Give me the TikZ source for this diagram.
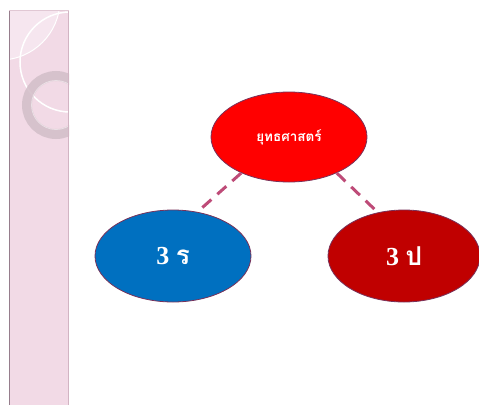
\documentclass[tikz,border=0pt]{standalone}
\usepackage{fontspec}
\setmainfont{Liberation Serif}
\newfontfamily\thaifont[Script=Thai]{Loma}
\usetikzlibrary{shapes.geometric}
\definecolor{barpink}{RGB}{242,218,230}
\definecolor{barlight}{RGB}{246,230,239}
\definecolor{ringgray}{RGB}{212,192,202}
\definecolor{edgecol}{RGB}{120,50,90}
\definecolor{dashcol}{RGB}{190,75,120}
\definecolor{topred}{RGB}{255,0,0}
\definecolor{leftblue}{RGB}{0,112,192}
\definecolor{rightred}{RGB}{192,0,0}
\tikzset{
  bubble/.style={ellipse, draw=edgecol, line width=0.8pt, text=white, inner sep=0pt},
  link/.style={draw=dashcol, line width=3pt, dash pattern=on 12pt off 8pt}
}
\begin{document}
\begin{tikzpicture}[x=1pt,y=-1pt]
\useasboundingbox (0,0) rectangle (479,405);
\fill[white] (0,0) rectangle (479,405);
% decorative bar
\begin{scope}
\clip (9,10) rectangle (69,405);
\fill[barpink] (9,10) rectangle (69,405);
\fill[barlight] (0,0) circle (60);
\draw[white, line width=1pt] (0,0) circle (60);
\draw[white, line width=1.5pt] (70,62) circle (50);
\draw[ringgray, opacity=0.9, line width=10pt] (56,105) circle (29);
\draw[white, opacity=0.5, line width=0.8pt] (56,105) circle (24.5);
\end{scope}
\draw[color={rgb,255:red,150;green,125;blue,140}, line width=1pt] (9.5,10) -- (9.5,405);
\draw[color={rgb,255:red,210;green,180;blue,195}, line width=1pt] (68.5,10) -- (68.5,405);
\draw[color={rgb,255:red,225;green,200;blue,212}, line width=0.6pt] (9,10.3) -- (69,10.3);
% ellipses
\node[bubble, fill=topred, minimum width=156pt, minimum height=90pt] (top) at (289,137)
  {\thaifont\bfseries\fontsize{13.5}{15}\selectfont ยุทธศาสตร์};
\node[bubble, fill=leftblue, minimum width=156pt, minimum height=92pt] (left) at (173,256)
  {\bfseries\fontsize{26}{30}\selectfont 3 {\thaifont ร}};
\node[bubble, fill=rightred, minimum width=152pt, minimum height=92pt] (right) at (404,256)
  {\bfseries\fontsize{26}{30}\selectfont 3 {\thaifont ป}};
% connectors
\draw[link] (top.217) -- (left.61);
\draw[link] (top.323) -- (right.121);
\end{tikzpicture}
\end{document}
